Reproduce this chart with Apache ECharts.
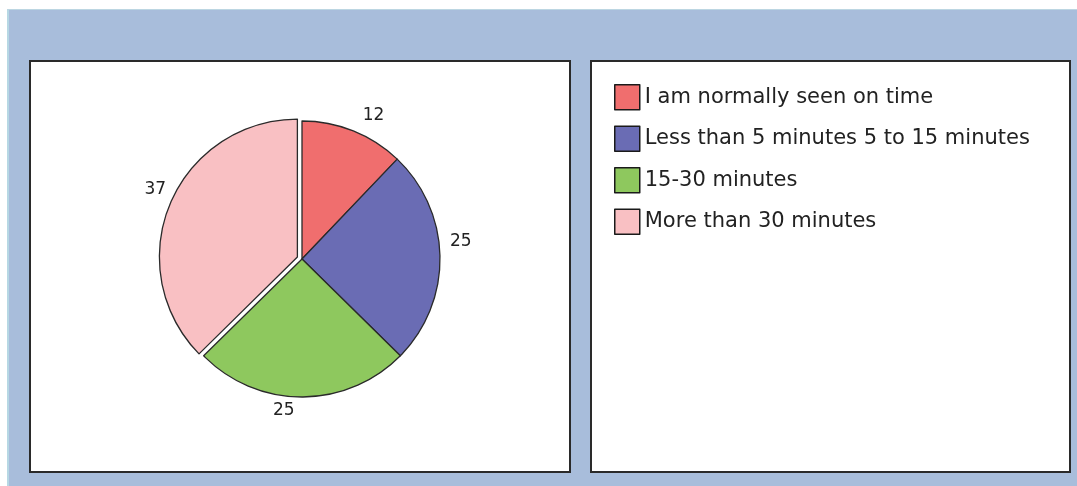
<!DOCTYPE html>
<html><head><meta charset="utf-8">
<script src="https://cdn.jsdelivr.net/npm/echarts@6/dist/echarts.min.js"></script>
<style>html,body{margin:0;padding:0;background:#fff}#c{width:1077px;height:486px}</style>
</head><body><div id="c"></div>
<script>
const categories = ['I am normally seen on time','Less than 5 minutes 5 to 15 minutes','15-30 minutes','More than 30 minutes'];
const values = [12, 25, 25, 37];
const colors = ['#f06e6e','#6a6cb4','#8ec85e','#f9c0c3'];
const labelNudge = [[0,-4],[-7,-15],[-34,2],[12,-10]];

const chart = echarts.init(document.getElementById('c'), null, {renderer:'canvas'});
chart.setOption({
  animation:false,
  backgroundColor:'#fff',
  graphic:[
    {type:'rect', z:-10, shape:{x:7,y:9,width:1070,height:477}, style:{fill:'#a8bddb'}},
    {type:'rect', z:-10, shape:{x:7,y:9,width:2,height:477}, style:{fill:'#b7d8e4'}},
    {type:'rect', z:-10, shape:{x:7,y:9,width:1070,height:1}, style:{fill:'#bcd6e2'}},
    {type:'rect', z:-9, shape:{x:30,y:61,width:540,height:411}, style:{fill:'#fff', stroke:'#2a2a2a', lineWidth:2}},
    {type:'rect', z:-9, shape:{x:591,y:61,width:479,height:411}, style:{fill:'#fff', stroke:'#2a2a2a', lineWidth:2}}
  ],
  legend:{
    orient:'vertical', left:609, top:79,
    icon:'rect', itemWidth:25, itemHeight:25, itemGap:15,
    itemStyle:{borderColor:'#1a1a1a', borderWidth:1.5},
    textStyle:{fontFamily:'DejaVu Sans, sans-serif', fontSize:21, color:'#222', padding:[0,0,0,0]},
    selectedMode:false,
    data:categories
  },
  series:[{
    type:'pie',
    center:[302,259], radius:138,
    startAngle:90, clockwise:true,
    selectedMode:'multiple', selectedOffset:5,
    itemStyle:{borderColor:'#2a2a2a', borderWidth:1.3},
    emphasis:{disabled:true},
    label:{show:true, position:'outside', formatter:'{c}', fontFamily:'DejaVu Sans, sans-serif', fontSize:17, color:'#222'},
    labelLine:{show:false, length:12, length2:0},
    data:categories.map((n,i)=>({name:n, value:values[i], selected:i===3,
      itemStyle:{color:colors[i]}, label:{offset:labelNudge[i]},
      select:{label:{offset:labelNudge[i]}}}))
  }]
});
</script></body></html>
